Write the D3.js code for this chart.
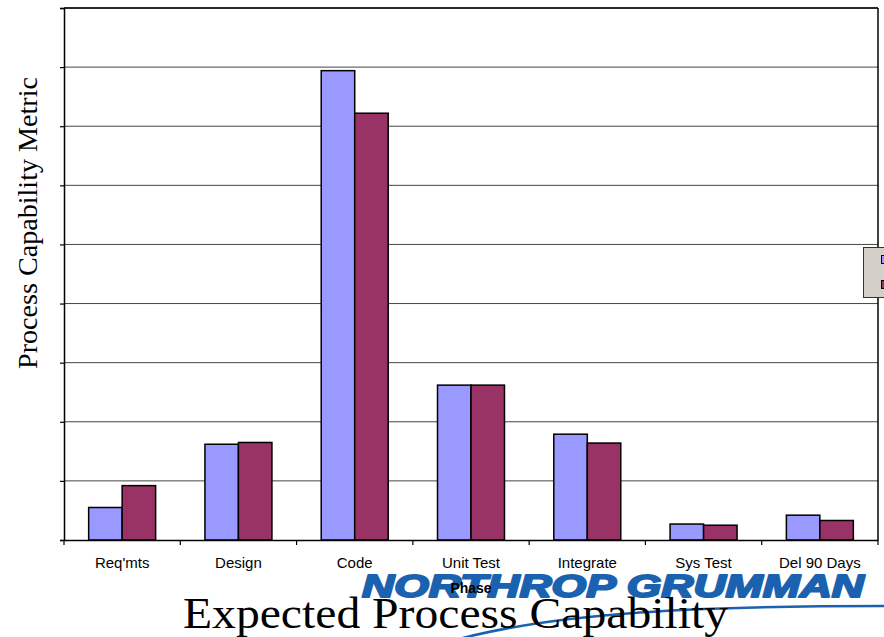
<!DOCTYPE html>
<html>
<head>
<meta charset="utf-8">
<script src="https://cdn.jsdelivr.net/npm/d3@7"></script>
<style>
  html, body { margin: 0; padding: 0; background: #fff; }
  svg { display: block; }
</style>
</head>
<body>
<svg id="chart" width="884" height="637"></svg>
<script>
const categories = ["Req'mts", "Design", "Code", "Unit Test", "Integrate", "Sys Test", "Del 90 Days"];
const seriesNames = ["Series A", "Series B"];
const seriesA = [0.55, 1.62, 7.94, 2.62, 1.79, 0.27, 0.42];
const seriesB = [0.92, 1.65, 7.22, 2.62, 1.64, 0.25, 0.33];
const yTicks = [0, 1, 2, 3, 4, 5, 6, 7, 8, 9];
const colors = ["#9999FF", "#993366"];

const svg = d3.select("#chart");
const pLeft = 64, pRight = 878, pTop = 8, pBottom = 540;

const x = d3.scaleBand().domain(categories).range([pLeft, pRight]).paddingInner(0.424).paddingOuter(0.212);
const xs = d3.scaleBand().domain(seriesNames).range([0, x.bandwidth()]);
const y = d3.scaleLinear().domain([0, 9]).range([pBottom, pTop]);

// gridlines
svg.append("g").selectAll("line").data(yTicks.slice(1)).join("line")
  .attr("x1", pLeft).attr("x2", pRight)
  .attr("y1", d => y(d)).attr("y2", d => y(d))
  .attr("stroke", "#444").attr("stroke-width", 1);

// frame top/right
svg.append("line").attr("x1", pLeft).attr("x2", pRight).attr("y1", pTop).attr("y2", pTop)
  .attr("stroke", "#000").attr("stroke-width", 1.5);
svg.append("line").attr("x1", pRight).attr("x2", pRight).attr("y1", pTop).attr("y2", pBottom)
  .attr("stroke", "#000").attr("stroke-width", 1.5);

// bars
const data = categories.map((c, i) => ({c, vals: [seriesA[i], seriesB[i]]}));
const g = svg.append("g");
data.forEach(d => {
  d.vals.forEach((v, j) => {
    g.append("rect")
      .attr("x", x(d.c) + xs(seriesNames[j]))
      .attr("y", y(v))
      .attr("width", xs.bandwidth())
      .attr("height", y(0) - y(v))
      .attr("fill", colors[j])
      .attr("stroke", "#000").attr("stroke-width", 1.5);
  });
});

// y axis
const yAxis = d3.axisLeft(y).tickValues(yTicks).tickSize(4).tickFormat("");
const ya = svg.append("g").attr("transform", `translate(${pLeft},0)`).call(yAxis);
ya.select(".domain").attr("stroke", "#000").attr("stroke-width", 1.5);
ya.selectAll(".tick line").attr("stroke", "#000").attr("stroke-width", 1.2);

// x axis
const xAxis = d3.axisBottom(x).tickSize(0).tickPadding(17);
const xa = svg.append("g").attr("transform", `translate(0,${pBottom})`).call(xAxis);
xa.select(".domain").attr("stroke", "#000").attr("stroke-width", 1.5);
xa.selectAll(".tick text").attr("font-family", "Liberation Sans, Arial, sans-serif")
  .attr("font-size", 15).attr("fill", "#000");
// boundary ticks between categories
const bounds = d3.range(categories.length + 1).map(i => pLeft + i * x.step());
svg.append("g").selectAll("line").data(bounds).join("line")
  .attr("x1", d => d).attr("x2", d => d).attr("y1", pBottom).attr("y2", pBottom + 5)
  .attr("stroke", "#000").attr("stroke-width", 1.2);

// y title
svg.append("text")
  .attr("transform", `translate(37,223) rotate(-90)`)
  .attr("text-anchor", "middle")
  .attr("font-family", "Liberation Serif, Times New Roman, serif")
  .attr("font-size", 28).attr("fill", "#000")
  .attr("textLength", 292).attr("lengthAdjust", "spacingAndGlyphs")
  .text("Process Capability Metric");

// legend (cut off)
svg.append("rect").attr("x", 863.5).attr("y", 247.5).attr("width", 30).attr("height", 50)
  .attr("fill", "#d4d0c8").attr("stroke", "#333").attr("stroke-width", 1);
colors.forEach((c, j) => {
  svg.append("rect").attr("x", 881.5).attr("y", 255.5 + j * 25).attr("width", 8).attr("height", 8)
    .attr("fill", c).attr("stroke", "#000").attr("stroke-width", 1);
});

// logo
svg.append("text")
  .attr("x", 362).attr("y", 597)
  .attr("font-family", "Liberation Sans, Arial, sans-serif")
  .attr("font-weight", "bold").attr("font-style", "italic")
  .attr("font-size", 32).attr("fill", "#1a62b0")
  .attr("stroke", "#1a62b0").attr("stroke-width", 2).attr("stroke-linejoin", "round")
  .attr("textLength", 502).attr("lengthAdjust", "spacingAndGlyphs")
  .text("NORTHROP GRUMMAN");
svg.append("path")
  .attr("d", "M455,640 C560,612 700,606 884,606")
  .attr("fill", "none").attr("stroke", "#1a62b0").attr("stroke-width", 2.5);

// Phase label
svg.append("text")
  .attr("x", (pLeft + pRight) / 2).attr("y", 593)
  .attr("text-anchor", "middle")
  .attr("font-family", "Liberation Sans, Arial, sans-serif")
  .attr("font-weight", "bold").attr("font-size", 14).attr("fill", "#000")
  .text("Phase");

// title
svg.append("text")
  .attr("x", 183).attr("y", 628)
  .attr("font-family", "Liberation Serif, Times New Roman, serif")
  .attr("font-size", 45).attr("fill", "#000")
  .attr("textLength", 545).attr("lengthAdjust", "spacingAndGlyphs")
  .text("Expected Process Capability");
</script>
</body>
</html>
